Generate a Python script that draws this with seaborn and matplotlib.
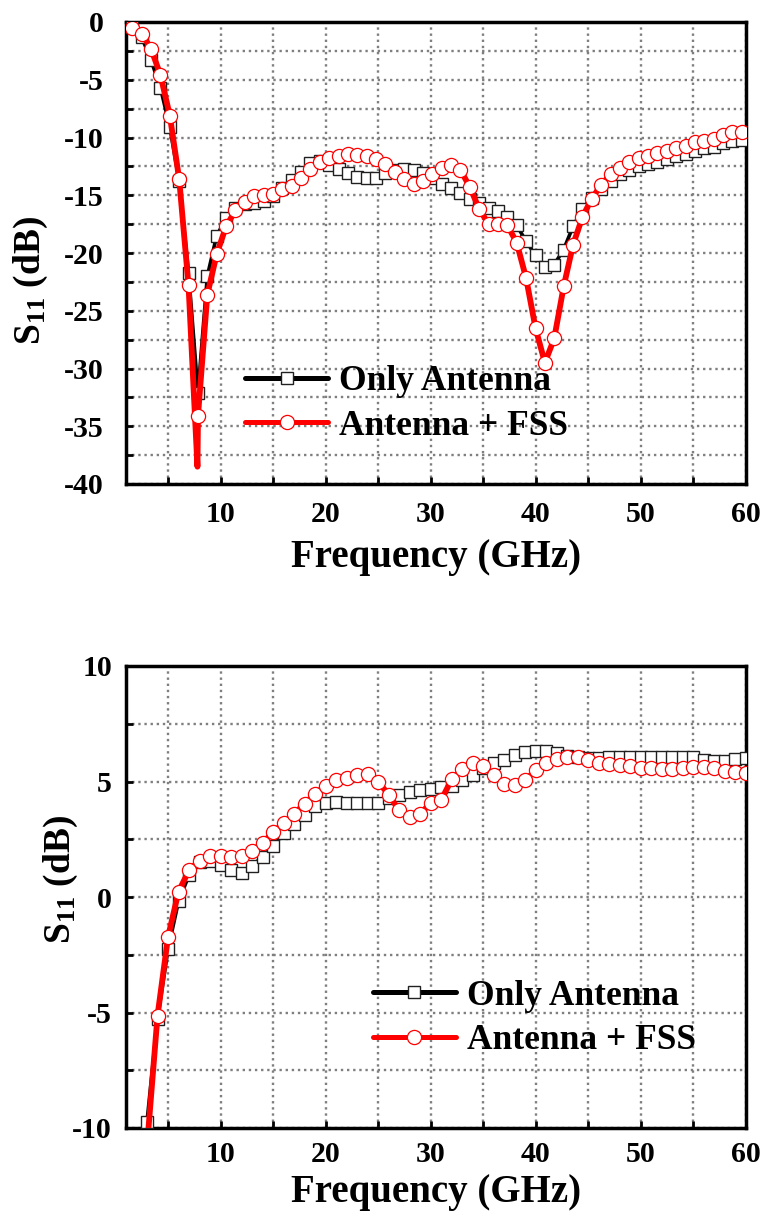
import matplotlib
matplotlib.use("Agg")
import matplotlib.pyplot as plt
import seaborn as sns
from matplotlib.ticker import MultipleLocator

# ---------------- data ----------------
FREQ_TOP = [1.60, 2.49, 3.38, 4.28, 5.17, 6.06, 6.95, 7.85, 8.74, 9.63,
            10.52, 11.42, 12.31, 13.20, 14.09, 14.98, 15.88, 16.77, 17.66, 18.55,
            19.45, 20.34, 21.23, 22.12, 23.02, 23.91, 24.80, 25.69, 26.58, 27.48,
            28.37, 29.26, 30.15, 31.05, 31.94, 32.83, 33.72, 34.62, 35.51, 36.40,
            37.29, 38.18, 39.08, 39.97, 40.86, 41.75, 42.65, 43.54, 44.43, 45.32,
            46.22, 47.11, 48.00, 48.89, 49.78, 50.68, 51.57, 52.46, 53.35, 54.25,
            55.14, 56.03, 56.92, 57.82, 58.71, 59.60]

S11_ANT_TOP = [-0.4, -1.3, -3.3, -5.7, -9.1, -13.8, -21.7, -32.1, -22.0, -18.5,
               -17.0, -16.1, -15.8, -15.7, -15.5, -15.1, -14.4, -13.7, -13.0, -12.2,
               -12.0, -12.4, -12.7, -13.1, -13.4, -13.5, -13.5, -13.1, -12.8, -12.7,
               -12.8, -13.1, -13.5, -14.0, -14.4, -14.8, -15.3, -15.7, -16.1, -16.4,
               -16.9, -17.6, -19.0, -20.2, -21.2, -21.0, -19.7, -17.7, -16.2, -15.2,
               -14.5, -13.8, -13.2, -12.8, -12.5, -12.3, -12.1, -11.9, -11.6, -11.4,
               -11.2, -10.9, -10.8, -10.5, -10.3, -10.2]

S11_FSS_TOP = [-0.5, -1.0, -2.3, -4.6, -8.1, -13.6, -22.8, -34.1, -23.6, -20.1,
               -17.7, -16.3, -15.6, -15.1, -15.0, -14.9, -14.5, -14.2, -13.5, -12.7,
               -12.1, -11.8, -11.6, -11.4, -11.5, -11.6, -11.9, -12.3, -13.0, -13.6,
               -14.0, -13.8, -13.2, -12.6, -12.4, -12.8, -14.3, -16.2, -17.5, -17.5,
               -17.6, -19.1, -22.2, -26.5, -29.5, -27.4, -22.9, -19.3, -16.9, -15.3,
               -14.1, -13.2, -12.6, -12.1, -11.8, -11.6, -11.3, -11.2, -10.9, -10.7,
               -10.4, -10.3, -10.1, -9.8, -9.55, -9.5]

# resonance tip of the red curve (line only, no marker)
FSS_DIP_FREQ = 7.8
FSS_DIP_VAL = -38.5

FREQ_BOT = [3, 4, 5, 6, 7, 8, 9, 10, 11, 12, 13, 14, 15, 16, 17, 18, 19, 20,
            21, 22, 23, 24, 25, 26, 27, 28, 29, 30, 31, 32, 33, 34, 35, 36, 37,
            38, 39, 40, 41, 42, 43, 44, 45, 46, 47, 48, 49, 50, 51, 52, 53, 54,
            55, 56, 57, 58, 59, 60]

S11_ANT_BOT = [-9.72, -5.28, -2.26, -0.18, 0.95, 1.5, 1.58, 1.4, 1.16, 1.05,
               1.36, 1.74, 2.2, 2.75, 3.14, 3.57, 3.93, 4.05, 4.1, 4.08,
               4.08, 4.05, 4.08, 4.3, 4.43, 4.53, 4.62, 4.68, 4.75, 4.8,
               5.05, 5.3, 5.58, 5.8, 5.94, 6.16, 6.26, 6.3, 6.34, 6.23,
               6.11, 6.04, 6.0, 6.0, 6.05, 6.07, 6.08, 6.08, 6.08, 6.08,
               6.08, 6.08, 6.05, 5.94, 5.9, 5.9, 5.97, 6.0]

S11_FSS_BOT = [-10.8, -5.14, -1.73, 0.23, 1.16, 1.58, 1.76, 1.79, 1.72, 1.76,
               2.0, 2.34, 2.8, 3.2, 3.6, 4.04, 4.47, 4.82, 5.05, 5.15,
               5.3, 5.33, 5.0, 4.42, 3.75, 3.45, 3.6, 4.07, 4.2, 5.1,
               5.55, 5.78, 5.66, 5.27, 4.9, 4.86, 5.05, 5.5, 5.82, 5.97,
               6.04, 6.04, 5.94, 5.82, 5.76, 5.72, 5.68, 5.58, 5.58, 5.53,
               5.53, 5.58, 5.62, 5.62, 5.58, 5.47, 5.4, 5.36]

LABELS = ["Only Antenna", "Antenna + FSS"]
XLABEL = "Frequency (GHz)"
YLABEL = "S$_{11}$ (dB)"

# ---------------- style ----------------
sns.set_style("white")
plt.rcParams["font.family"] = ["Liberation Serif", "DejaVu Serif"]
plt.rcParams["font.weight"] = "bold"
plt.rcParams["axes.unicode_minus"] = False
plt.rcParams["mathtext.fontset"] = "custom"
plt.rcParams["mathtext.rm"] = "Liberation Serif:bold"
plt.rcParams["mathtext.it"] = "Liberation Serif:bold"
plt.rcParams["mathtext.bf"] = "Liberation Serif:bold"
for key in ["text.color", "axes.labelcolor", "xtick.color", "ytick.color",
            "xtick.labelcolor", "ytick.labelcolor"]:
    plt.rcParams[key] = "black"

W, H = 768, 1211
fig = plt.figure(figsize=(W / 100, H / 100), dpi=100)
ax1 = fig.add_axes([126 / W, 1 - 484 / H, 620 / W, 462 / H])
ax2 = fig.add_axes([126 / W, 1 - 1128 / H, 620 / W, 462 / H])


def draw(ax, fb, vb, fr, vr, mark_r):
    sns.lineplot(x=fb, y=vb, ax=ax, color="black", lw=2.6, marker="s", ms=8.0,
                 mfc="white", mec="#202020", mew=1.0, label=LABELS[0],
                 sort=False, estimator=None, errorbar=None, zorder=3)
    sns.lineplot(x=fr, y=vr, ax=ax, color="red", lw=4.2, marker="o", ms=10.2,
                 mfc="white", mec="red", mew=0.9, markevery=mark_r,
                 label=LABELS[1], sort=False, estimator=None, errorbar=None,
                 zorder=4)


# top: insert the red resonance tip into the line
fr_top = list(FREQ_TOP)
vr_top = list(S11_FSS_TOP)
ins = next(i for i, f in enumerate(fr_top) if f > FSS_DIP_FREQ)
fr_top.insert(ins, FSS_DIP_FREQ)
vr_top.insert(ins, FSS_DIP_VAL)
mark_top = [i for i in range(len(fr_top)) if i != ins]

draw(ax1, FREQ_TOP, S11_ANT_TOP, fr_top, vr_top, mark_top)
draw(ax2, FREQ_BOT, S11_ANT_BOT, FREQ_BOT, S11_FSS_BOT, None)

for ax, ylim, ypad, xpad in [(ax1, (-40, 0), 16, 12), (ax2, (-10, 10), 10, 9)]:
    ax.set_xlim(1, 60)
    ax.set_ylim(*ylim)
    ax.xaxis.set_major_locator(MultipleLocator(10))
    ax.xaxis.set_minor_locator(MultipleLocator(5))
    ax.yaxis.set_major_locator(MultipleLocator(5))
    ax.yaxis.set_minor_locator(MultipleLocator(2.5))
    ax.grid(which="both", color="#7f7f7f", linestyle=(0, (1, 1.6)), linewidth=1.7)
    ax.set_axisbelow(True)
    ax.tick_params(which="both", direction="in", length=5, width=2,
                   top=False, right=False, bottom=True, left=True, color="black")
    ax.tick_params(axis="y", which="major", labelsize=21.5, pad=ypad)
    ax.tick_params(axis="x", which="major", labelsize=21.5, pad=xpad)
    for lab in ax.get_xticklabels() + ax.get_yticklabels():
        lab.set_fontweight("bold")
        lab.set_color("black")
    for sp in ax.spines.values():
        sp.set_visible(True)
        sp.set_linewidth(2.5)
        sp.set_color("black")
    ax.set_xlabel(XLABEL, fontsize=28, fontweight="bold", color="black")
    ax.set_ylabel(YLABEL, fontsize=27, fontweight="bold", color="black")

ax1.xaxis.set_label_coords(0.5, -0.118)
ax2.xaxis.set_label_coords(0.5, -0.100)
ax1.yaxis.set_label_coords(-0.123, 0.44)
ax2.yaxis.set_label_coords(-0.075, 0.537)

for ax, anchor in [(ax1, (0.192, 0.173)), (ax2, (0.398, 0.237))]:
    leg = ax.legend(loc="center left", bbox_to_anchor=anchor, frameon=False,
                    prop={"weight": "bold", "size": 25.5}, handlelength=2.35,
                    handletextpad=0.3, labelspacing=0.32, borderpad=0,
                    borderaxespad=0)
    for h in leg.legend_handles:
        h.set_linewidth(3.6)
    for t in leg.get_texts():
        t.set_color("black")

fig.savefig("out.png", dpi=100)
